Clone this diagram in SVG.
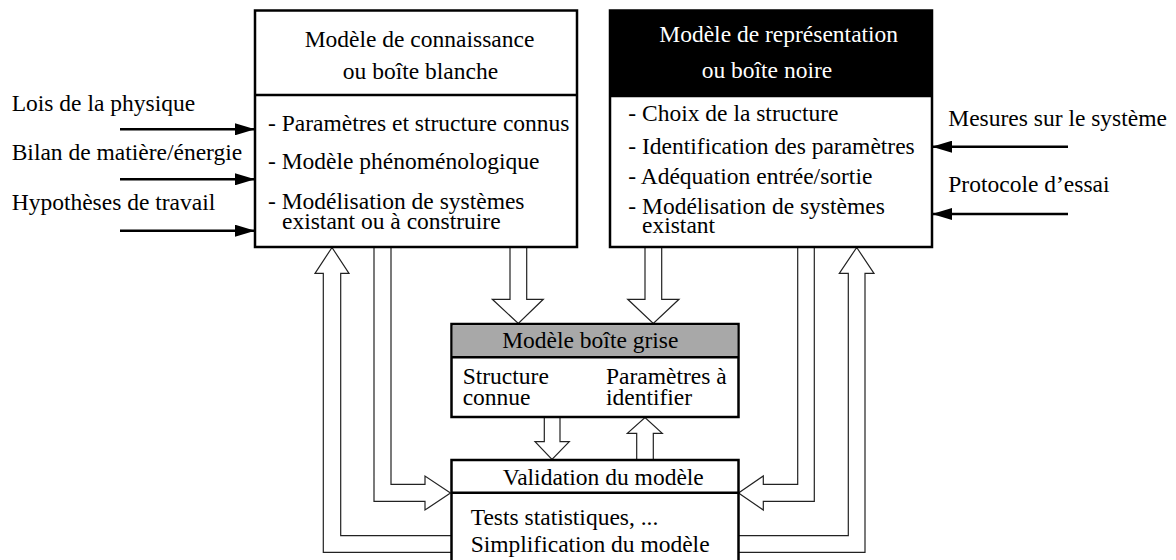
<svg xmlns="http://www.w3.org/2000/svg" width="1176" height="560" viewBox="0 0 1176 560">
<style>
text{font-family:"Liberation Serif","Times New Roman",serif;font-size:23.5px;fill:#000}
.box{fill:#fff;stroke:#000;stroke-width:2.5}
.div{stroke:#000;stroke-width:2.5}
.hollow{fill:#fff;stroke:#222;stroke-width:1.2;stroke-linejoin:miter}
.loop{fill:none;stroke:#222;stroke-width:1.2;stroke-linejoin:miter}
.in{stroke:#000;stroke-width:2.5;fill:none}
.w{fill:#fff}
.mid{text-anchor:middle}
</style>
<defs>
<marker id="ah" markerWidth="20" markerHeight="12" refX="20" refY="6" orient="auto" markerUnits="userSpaceOnUse">
<path d="M0,0 L20,6 L0,12 Z" fill="#000"/>
</marker>
</defs>

<g id="connectors">
<line class="in" x1="120" y1="129.3" x2="255" y2="129.3" marker-end="url(#ah)"/>
<line class="in" x1="120" y1="179.3" x2="255" y2="179.3" marker-end="url(#ah)"/>
<line class="in" x1="120" y1="230.7" x2="255" y2="230.7" marker-end="url(#ah)"/>
<line class="in" x1="1068" y1="146.7" x2="932" y2="146.7" marker-end="url(#ah)"/>
<line class="in" x1="1068" y1="214" x2="932" y2="214" marker-end="url(#ah)"/>

<polygon class="hollow" points="510,247 510,299.3 492.3,299.3 518.3,323.5 543.3,299.3 526.7,299.3 526.7,247"/>
<polygon class="hollow" points="645,247 645,299.3 627.7,299.3 653.3,323.5 679,299.3 661.7,299.3 661.7,247"/>
<polygon class="hollow" points="544.3,417 544.3,441.7 535,441.7 552,459.5 569.3,441.7 560,441.7 560,417"/>
<polygon class="hollow" points="636.7,460 636.7,433.3 627.3,433.3 645,417.5 662.3,433.3 653.3,433.3 653.3,460"/>

<polyline class="loop" points="451,552.3 323.3,552.3 323.3,273.3 315,273.3 332,247.5 349,273.3 340.7,273.3 340.7,535.7 451,535.7"/>
<polyline class="loop" points="374,247 374,501.3 425,501.3 425,510 450.5,493 425,476 425,484.3 391,484.3 391,247"/>
<polyline class="loop" points="797.7,247 797.7,484.3 763.3,484.3 763.3,476 738.5,493 763.3,510 763.3,501.3 814.3,501.3 814.3,247"/>
<polyline class="loop" points="738,535.7 848.3,535.7 848.3,273.3 839.3,273.3 856.7,247.5 874,273.3 865,273.3 865,552.3 738,552.3"/>
</g>

<g id="inputs-left">
<text x="11.7" y="110.5">Lois de la physique</text>
<text x="11.7" y="159.5">Bilan de matière/énergie</text>
<text x="11.7" y="209.5">Hypothèses de travail</text>
</g>

<g id="inputs-right">
<text x="948.3" y="126">Mesures sur le système</text>
<text x="948.3" y="191.5">Protocole d’essai</text>
</g>

<g id="boite-blanche">
<rect class="box" x="255" y="10.5" width="322" height="236.5"/>
<line class="div" x1="255" y1="95" x2="577" y2="95"/>
<text class="mid" x="419.5" y="47.3">Modèle de connaissance</text>
<text class="mid" x="420.5" y="78.5">ou boîte blanche</text>
<text x="268" y="130.5">- Paramètres et structure connus</text>
<text x="268" y="169.3">- Modèle phénoménologique</text>
<text x="268" y="209">- Modélisation de systèmes</text>
<text x="282" y="229">existant ou à construire</text>
</g>

<g id="boite-noire">
<rect class="box" x="610" y="10.5" width="322" height="236.5"/>
<rect x="610" y="10.5" width="322" height="85.5" fill="#000"/>
<line class="div" x1="610" y1="96" x2="932" y2="96"/>
<text class="w" x="659.3" y="41.5">Modèle de représentation</text>
<text class="w" x="701.7" y="78">ou boîte noire</text>
<text x="628.3" y="121">- Choix de la structure</text>
<text x="628.3" y="154">- Identification des paramètres</text>
<text x="628.3" y="184">- Adéquation entrée/sortie</text>
<text x="628.3" y="214">- Modélisation de systèmes</text>
<text x="642" y="233">existant</text>
</g>

<g id="boite-grise">
<rect class="box" x="451.5" y="324" width="287" height="93"/>
<rect x="452.75" y="325.25" width="284.5" height="32" fill="#a8a8a8"/>
<line class="div" x1="451.5" y1="357.3" x2="738.5" y2="357.3"/>
<text class="mid" x="590.3" y="347.5">Modèle boîte grise</text>
<text x="462.7" y="384">Structure</text>
<text x="462.7" y="405">connue</text>
<text x="606" y="384">Paramètres à</text>
<text x="606" y="405">identifier</text>
</g>

<g id="validation">
<rect class="box" x="451.5" y="460" width="287" height="103"/>
<line class="div" x1="451.5" y1="492.7" x2="738.5" y2="492.7"/>
<text class="mid" x="603.3" y="485">Validation du modèle</text>
<text x="470.7" y="524.5">Tests statistiques, ...</text>
<text x="470.7" y="551.5">Simplification du modèle</text>
</g>
</svg>
